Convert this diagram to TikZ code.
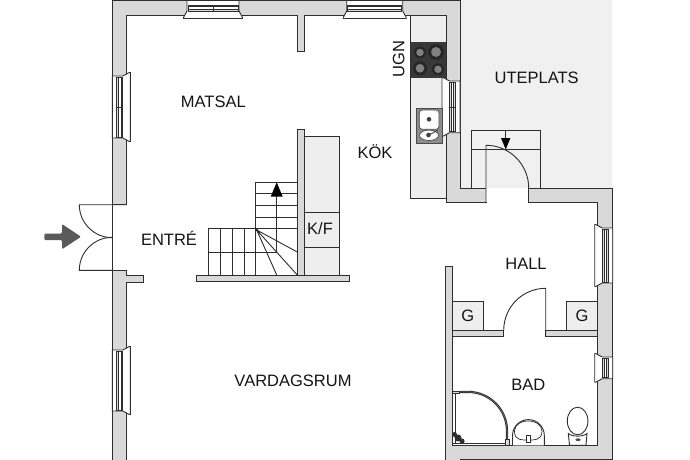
\documentclass[tikz,border=0pt]{standalone}
\usepackage{fontspec}
\setmainfont{Liberation Sans}
\definecolor{wallg}{HTML}{D9D9D9}
\definecolor{lineg}{HTML}{2E2E2E}
\definecolor{patio}{HTML}{F0F0F0}
\definecolor{fixt}{HTML}{EEEEEE}
\definecolor{arrowg}{HTML}{5A5A5A}
\tikzset{
  ln/.style={draw=lineg,line width=0.9pt,line join=miter},
  wallfill/.style={ln,fill=wallg},
  fixture/.style={ln,fill=fixt},
  thin ln/.style={draw=lineg,line width=0.7pt},
  label/.style={font=\fontsize{16.5}{16.5}\selectfont,text=black!92,inner sep=0pt},
  topw/.style={x={(1pt,0pt)},y={(0pt,-1pt)}},
  leftw/.style={x={(0pt,-1pt)},y={(1pt,0pt)}},
  rightw/.style={x={(0pt,-1pt)},y={(-1pt,0pt)}}
}
% #1 orientation, #2 x, #3 y, #4 length
\newcommand{\wnd}[4]{%
  \begin{scope}[xshift=#2pt,yshift=-#3pt,#1]
    \path[ln,fill=white] (0,0) -- (0,10.5) -- (-3.5,17) -- (-3.5,18) -- (#4+3.5,18) -- (#4+3.5,17) -- (#4,10.5) -- (#4,0) -- cycle;
    \draw[thin ln,fill=wallg] (1,4.5) rectangle (#4-1,10.5);
    \draw[thin ln,fill=white] (1,6.3) rectangle (#4-1,8.7);
  \end{scope}}
\newcommand{\burner}[3]{%
  \fill[black!85] (#1,#2) circle (#3);
  \fill[black!50] (#1,#2) circle (#3*0.62);}
\begin{document}
\begin{tikzpicture}[x=1pt,y=-1pt]
\useasboundingbox[fill=white] (0,0) rectangle (690,460);
\begin{scope}
\clip (0,0) rectangle (690,460);
% patio
\fill[patio] (460,0) rectangle (612,188);
% walls
\fill[wallg] (445.3,445.3) rectangle (612.7,460);
\path[wallfill] (112.3,204.7) -- (112.3,0.5) -- (460,0.5) -- (460,188) -- (612.7,188) -- (612.7,470) -- (445.3,470) -- (445.3,266.3) -- (452.3,266.3) -- (452.3,445.3) -- (597.3,445.3) -- (597.3,202) -- (528.7,202) -- (528.7,188) -- (486,188) -- (486,202) -- (446,202) -- (446,15) -- (304.3,15) -- (304.3,51) -- (297.3,51) -- (297.3,15) -- (126.7,15) -- (126.7,204.7) -- cycle;
\path[wallfill] (112.3,470) -- (112.3,270.3) -- (126.7,270.3) -- (126.7,275.3) -- (143.3,275.3) -- (143.3,282) -- (126.7,282) -- (126.7,470) -- cycle;
\draw[ln] (460,459.3) -- (612.7,459.3);
% internal wall of bath
\path[wallfill] (452.3,330.3) -- (503.7,330.3) -- (503.7,336.7) -- (452.3,336.7) -- cycle;
\path[wallfill] (545.7,330.3) -- (597.3,330.3) -- (597.3,336.7) -- (545.7,336.7) -- cycle;
% stair wall
\path[wallfill] (297.3,129) rectangle (304.3,275);
\path[wallfill] (196.3,275) rectangle (349,281.7);
% kitchen counter
\path[ln,fill=fixt] (410.7,15) rectangle (446,198);
% cabinet
\path[fixture] (304.3,136) rectangle (339.3,275);
\draw[ln] (304.3,212.3) -- (339.3,212.3) (304.3,247) -- (339.3,247);
% G cabinets
\path[fixture] (452.3,301) rectangle (483.7,330.3);
\path[fixture] (566,301) rectangle (597.3,330.3);
% windows
\wnd{topw}{187}{0.5}{52}
\draw[thin ln] (213,5) -- (213,11);
\wnd{topw}{346.7}{0.5}{56}
\wnd{leftw}{112.3}{76}{62}
\draw[thin ln] (117,107) -- (123,107);
\wnd{leftw}{112.3}{350}{61}
\wnd{rightw}{460}{81}{51.7}
\draw[thin ln] (449,107) -- (455.5,107);
\wnd{rightw}{612.7}{228}{55}
\wnd{rightw}{612.7}{357}{21.7}
% hob
\fill[black!78] (411,42) rectangle (446,77.7);
\burner{420}{52.5}{6}
\burner{436}{52}{8}
\burner{420}{68.3}{7}
\burner{438}{69.3}{6}
% sink
\path[draw=black!70,line width=1pt,fill=black!45] (416,108) rectangle (442,143);
\path[draw=black!70,fill=white,rounded corners=3pt,line width=0.7pt] (419.3,110) rectangle (439,129.3);
\path[draw=black!70,fill=white,line width=0.7pt] (429,135.3) ellipse (9.5 and 5.2);
\fill[black!75] (429,119.3) circle (2.3);
\fill[black!75] (428.5,135) circle (2.3);
\draw[black!75,line width=0.9pt] (429,135) -- (438,130);
% patio steps
\draw[ln] (471,188) -- (471,130) -- (540.3,130) -- (540.3,188);
\draw[ln] (471,149.3) -- (540.3,149.3);
% back door
\path[fill=white] (486.4,188.4) rectangle (528.3,201.6);
\draw[ln] (486,202) -- (486,145.3) arc[start angle=-90,end angle=0,radius=42.7];
\draw[ln] (528.7,188) -- (528.7,202);
\draw[ln] (505.7,130) -- (505.7,140);
\fill[black] (505.7,149.5) -- (501,138) -- (510.4,138) -- cycle;
% stairs
\draw[ln] (255.3,275) -- (255.3,182.3) -- (297.3,182.3);
\foreach \yy in {193.7,205.3,217,228.7} \draw[ln] (255.3,\yy) -- (297.3,\yy);
\draw[ln] (255.3,228.7) -- (208.3,228.7) -- (208.3,275);
\foreach \xx in {220.3,232.3,244.3} \draw[ln] (\xx,228.7) -- (\xx,275);
\draw[ln] (208.3,252) -- (276.7,252);
\draw[ln] (276.7,190) -- (276.7,252);
\draw[ln] (256.7,230) -- (297.3,252) (256.7,230) -- (297.3,275) (256.7,230) -- (276.7,275);
\fill[black!85] (256.7,230) circle (1.4);
\fill[black] (276.7,182.3) -- (270.7,196.7) -- (282.7,196.7) -- cycle;
% entrance door
\draw[ln] (112.3,204.7) -- (112.3,270.3);
\draw[ln] (126.7,204.7) -- (79.3,204.7) arc[start angle=180,end angle=90,radius=33];
\draw[ln] (112.3,270.3) -- (79.3,270.3) arc[start angle=180,end angle=270,radius=33];
% entrance arrow
\fill[arrowg,rounded corners=1.2pt] (44.3,233.5) -- (62,233.5) -- (62,224) -- (81,236.7) -- (62,249.3) -- (62,240) -- (44.3,240) -- cycle;
% hall door
\draw[ln] (545.7,336.7) -- (545.7,288.3) arc[start angle=-90,end angle=-180,radius=42];
% shower
\draw[thin ln,fill=wallg] (452.7,391) rectangle (459.3,393.2);
\draw[thin ln,fill=white] (452.7,393.2) rectangle (454.9,443.5);
\draw[thin ln] (454.9,443.3) -- (507,443.3);
\draw[draw=lineg,line width=2.2pt] (459.3,391.9) -- (468,391.9) arc[start angle=-90,end angle=0,radius=39] -- (507.0,439);
\draw[draw=black!55,line width=0.5pt] (459.3,391.9) -- (468,391.9) arc[start angle=-90,end angle=0,radius=39] -- (507.0,439);
\draw[thin ln,fill=wallg] (505.7,439) rectangle (509,445.3);
\draw[draw=lineg,line width=1.6pt] (453.5,433.5) -- (464,442);
\fill[lineg] (458,438) circle (3.5);
\fill[lineg] (454.5,434.5) circle (2.5);
\fill[lineg] (462,441) circle (2.5);
% wash basin
\path[ln,fill=white] (512.5,445.3) -- (512.5,435.5) arc[start angle=180,end angle=360,radius=15.9] -- (544.3,445.3);
\path[thin ln] (514.5,431) .. controls (515,417.5) and (541.5,417.5) .. (542,431) .. controls (542,441) and (533,440) .. (528.3,440) .. controls (523,440) and (514,441) .. (514.5,431) -- cycle;
\path[thin ln,fill=white] (526.4,435) rectangle (530,442.3);
% toilet
\path[ln,fill=white] (577.6,421) ellipse (10.3 and 13.8);
\path[ln,fill=white] (569.5,445.3) -- (568.3,433.5) .. controls (572,437) and (583,437) .. (587,433.5) -- (586,445.3) -- cycle;
\fill[black!70] (578,439.7) ellipse (2.6 and 1.4);
\end{scope}
% labels
\node[label] (matsal) at (213.3,101.7) {MATSAL};
\node[label] (kok) at (375,151.7) {KÖK};
\node[label,rotate=90] (ugn) at (398.7,59) {UGN};
\node[label] (uteplats) at (536.7,78.3) {UTEPLATS};
\node[label] (kf) at (320,229) {K/F};
\node[label] (entre) at (169,238) {ENTRÉ};
\node[label] (hall) at (526,264) {HALL};
\node[label] (g1) at (467.7,316) {G};
\node[label] (g2) at (582,316) {G};
\node[label] (bad) at (528.3,385.3) {BAD};
\node[label] (vardag) at (293,380.5) {VARDAGSRUM};
\end{tikzpicture}
\end{document}
